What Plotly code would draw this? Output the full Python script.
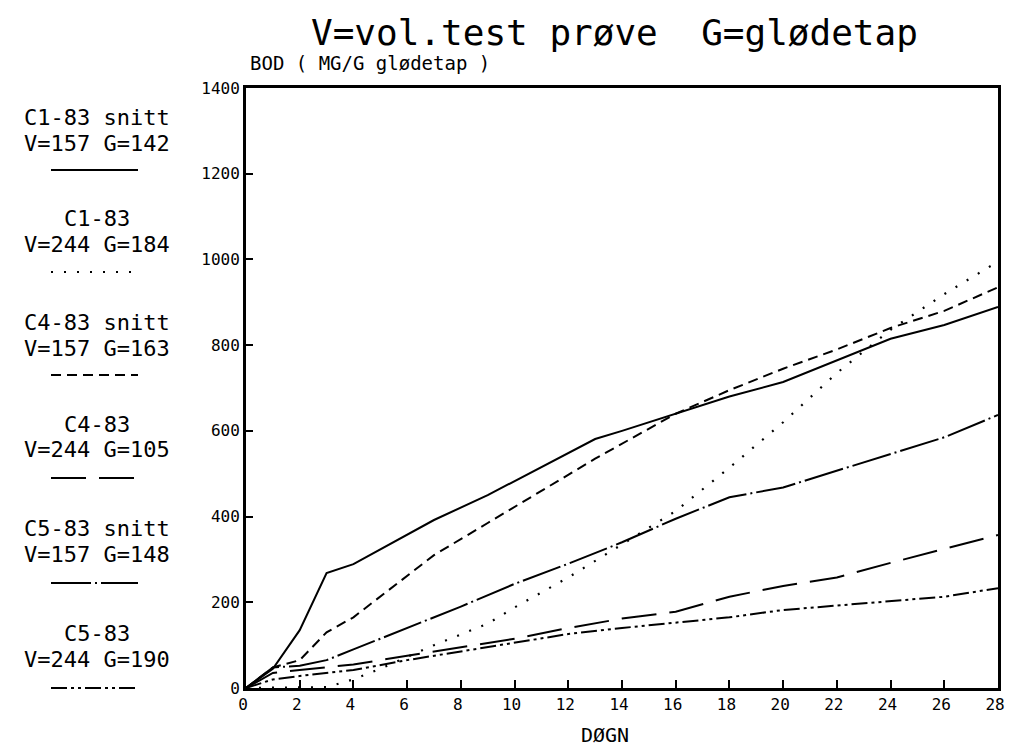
import plotly.graph_objects as go

# ---- data ----
c1s_days = [0, 1, 2, 3, 4, 7, 9, 11, 13, 14, 18, 20, 24, 26, 28]
c1s_bod = [0, 45, 135, 268, 289, 392, 450, 515, 581, 600, 680, 714, 815, 847, 889]

c1_days = [0, 3, 4, 5, 7, 9, 10, 12, 14, 16, 18, 20, 22, 24, 26, 28]
c1_bod = [0, 2, 20, 45, 100, 150, 188, 258, 335, 413, 514, 620, 735, 836, 919, 995]

c4s_days = [0, 1, 2, 3, 4, 7, 9, 11, 13, 16, 18, 20, 22, 24, 26, 28]
c4s_bod = [0, 48, 65, 130, 165, 310, 385, 460, 535, 640, 695, 745, 790, 840, 880, 935]

c4_days = [0, 1, 2, 4, 6, 8, 10, 12, 14, 16, 18, 20, 22, 24, 26, 28]
c4_bod = [0, 35, 42, 55, 75, 95, 115, 140, 162, 178, 213, 238, 258, 292, 325, 357]

c5s_days = [0, 1, 2, 3, 4, 6, 8, 10, 12, 14, 16, 18, 20, 26, 28]
c5s_bod = [0, 48, 52, 65, 90, 140, 190, 243, 290, 340, 395, 445, 468, 585, 637]

c5_days = [0, 1, 2, 4, 6, 8, 10, 12, 14, 16, 18, 20, 22, 24, 26, 28]
c5_bod = [0, 20, 28, 42, 65, 85, 105, 126, 140, 152, 165, 182, 192, 203, 213, 233]

legend_line1 = ["C1-83 snitt", "C1-83", "C4-83 snitt", "C4-83", "C5-83 snitt", "C5-83"]
legend_line2 = ["V=157 G=142", "V=244 G=184", "V=157 G=163", "V=244 G=105", "V=157 G=148", "V=244 G=190"]

x_ticks = list(range(0, 29, 2))
y_ticks = list(range(0, 1401, 200))

title_text = "V=vol.test prøve  G=glødetap"
y_label = "BOD ( MG/G glødetap )"
x_label = "DØGN"

# ---- styles ----
dashes = ["solid", "2px,11px", "10px,6px", "35px,13px", "40px,4px,2px,4px", "16px,4px,3px,4px,3px,4px"]
series = [
    (c1s_days, c1s_bod),
    (c1_days, c1_bod),
    (c4s_days, c4s_bod),
    (c4_days, c4_bod),
    (c5s_days, c5s_bod),
    (c5_days, c5_bod),
]

# page has an 8px body margin; figure is placed at (8, 8)
OFF = 8
W, H = 1014 - 2 * OFF, 756 - 2 * OFF
# plot-area edges in page pixels
L, R, T, B = 246, 998, 88, 688
MONO = "DejaVu Sans Mono"


def px_x(px):
    return (px - L) / (R - L)


def px_y(py):
    return (B - py) / (B - T)


fig = go.Figure()
for (xs, ys), d, name in zip(series, dashes, legend_line1):
    fig.add_trace(go.Scatter(
        x=xs, y=ys, mode="lines", name=name,
        line=dict(color="black", width=2 if d != "2px,11px" else 2.2, dash=d),
        showlegend=False,
    ))

fig.update_xaxes(
    range=[0, 28], tickvals=x_ticks, ticktext=[str(v) for v in x_ticks],
    showgrid=False, zeroline=False, showline=True, linewidth=3, linecolor="black",
    mirror=True, ticks="inside", ticklen=8, tickwidth=1.5, tickcolor="black",
    tickfont=dict(family=MONO, size=16, color="black"),
    ticklabeloverflow="allow", automargin=False, ticklabelshift=-3,
)
fig.update_yaxes(
    range=[0, 1400], tickvals=y_ticks, ticktext=[str(v) for v in y_ticks],
    showgrid=False, zeroline=False, showline=True, linewidth=3, linecolor="black",
    mirror=True, ticks="inside", ticklen=7, tickwidth=1.5, tickcolor="black",
    tickfont=dict(family=MONO, size=16, color="black"),
    automargin=False,
)

annotations = [
    dict(text=title_text, xref="paper", yref="paper", x=px_x(614), y=px_y(32),
         xanchor="center", yanchor="middle", showarrow=False,
         font=dict(family=MONO, size=36, color="black")),
    dict(text=y_label, xref="paper", yref="paper", x=px_x(248), y=px_y(63),
         xanchor="left", yanchor="middle", showarrow=False,
         font=dict(family=MONO, size=19, color="black")),
    dict(text=x_label, xref="paper", yref="paper", x=px_x(605), y=px_y(735),
         xanchor="center", yanchor="middle", showarrow=False,
         font=dict(family=MONO, size=20, color="black")),
]

text1_y = [117, 218, 322, 424, 528, 633]
text2_y = [143, 244, 348, 450, 554, 659]
sample_y = [170, 272, 375, 478, 583, 688]
shapes = []
for t1, t2, y1, y2, ys, d in zip(legend_line1, legend_line2, text1_y, text2_y, sample_y, dashes):
    for t, yy in ((t1, y1), (t2, y2)):
        annotations.append(dict(text=t, xref="paper", yref="paper", x=px_x(97), y=px_y(yy),
                                xanchor="center", yanchor="middle", showarrow=False,
                                font=dict(family=MONO, size=22, color="black")))
    shapes.append(dict(type="line", xref="paper", yref="paper",
                       x0=px_x(51), x1=px_x(138), y0=px_y(ys), y1=px_y(ys),
                       line=dict(color="black", width=2, dash=d)))

fig.update_layout(
    width=W, height=H,
    margin=dict(l=L - OFF, r=W - (R - OFF), t=T - OFF, b=H - (B - OFF), pad=0),
    paper_bgcolor="white", plot_bgcolor="white",
    annotations=annotations, shapes=shapes,
    showlegend=False,
)

fig.write_html("out.html")
